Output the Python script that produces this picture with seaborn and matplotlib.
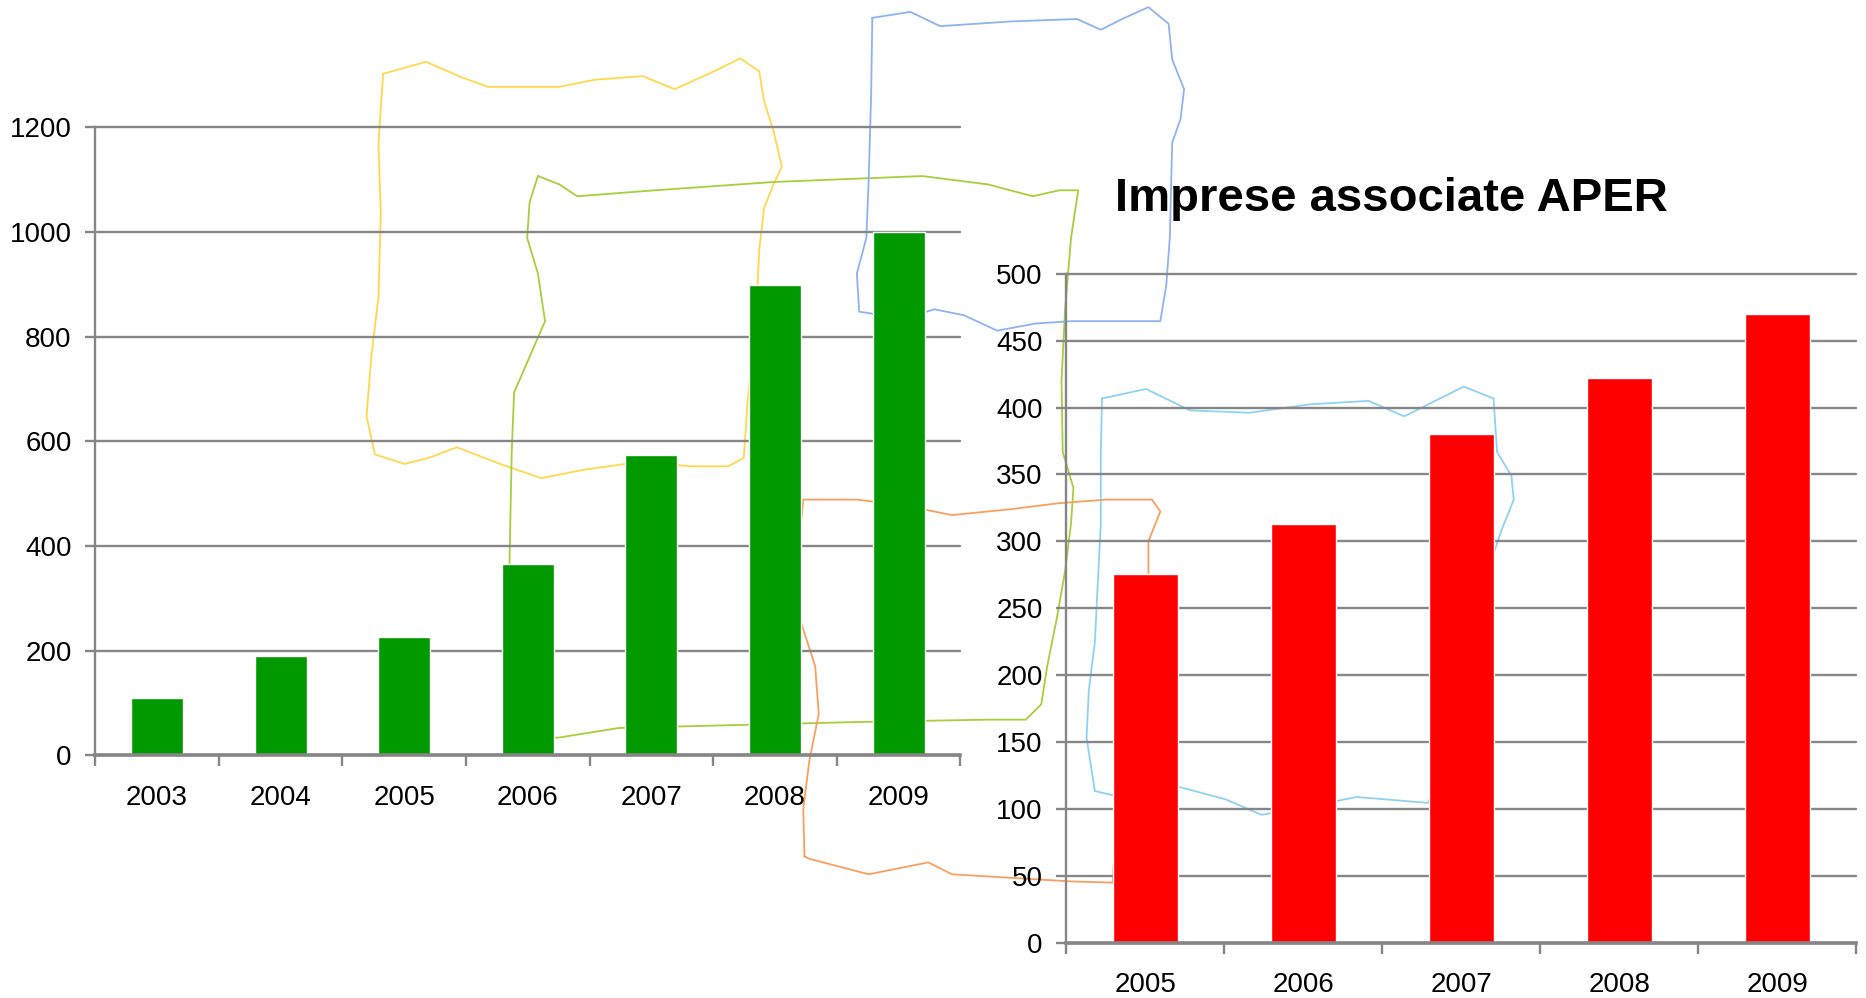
import numpy as np
import pandas as pd
import seaborn as sns
import matplotlib.pyplot as plt

# dati
anni_impianti = ['2003', '2004', '2005', '2006', '2007', '2008', '2009']
impianti = [109, 189, 226, 366, 573, 898, 1000]

anni_imprese = ['2005', '2006', '2007', '2008', '2009']
imprese = [276, 313, 380, 422, 470]

titolo_imprese = 'Imprese associate APER'

# contorni disegnati a mano (decorazione, coordinate in pixel 1568x839)
contorno_giallo = [(322, 62), (358, 52), (388, 65), (410, 73), (470, 73), (500, 67), (540, 64),
                   (567, 75), (600, 60), (622, 49), (638, 60), (642, 85), (650, 110), (657, 140),
                   (650, 155), (642, 175), (638, 210), (636, 250), (632, 300), (628, 340),
                   (625, 385), (612, 392), (580, 392), (540, 388), (490, 395), (455, 402),
                   (420, 390), (384, 376), (360, 385), (340, 390), (315, 382), (308, 350),
                   (312, 300), (318, 250), (320, 180), (318, 120), (322, 62)]
contorno_verde = [(452, 148), (470, 155), (485, 165), (550, 160), (650, 153), (775, 148),
                  (830, 155), (868, 165), (890, 160), (906, 160), (900, 200), (895, 260),
                  (892, 320), (893, 380), (902, 410), (900, 440), (895, 480), (888, 520),
                  (880, 560), (875, 592), (862, 605), (830, 605), (720, 607), (600, 610),
                  (520, 612), (470, 620), (440, 622), (430, 580), (428, 480), (430, 380),
                  (432, 330), (445, 300), (458, 270), (452, 230), (443, 200), (445, 170),
                  (452, 148)]
contorno_blu = [(733, 15), (765, 10), (790, 22), (850, 18), (905, 16), (925, 25), (945, 15),
                (965, 6), (982, 20), (985, 50), (995, 75), (992, 100), (985, 120), (983, 200),
                (980, 240), (975, 270), (950, 270), (900, 270), (870, 272), (838, 278),
                (810, 265), (785, 260), (760, 268), (722, 262), (720, 230), (728, 200),
                (730, 150), (732, 80), (733, 15)]
contorno_azzurro = [(926, 335), (963, 327), (1000, 345), (1050, 347), (1100, 340), (1150, 337),
                    (1180, 350), (1230, 325), (1255, 335), (1258, 380), (1270, 400),
                    (1272, 420), (1262, 445), (1250, 480), (1230, 600), (1200, 675),
                    (1140, 670), (1090, 680), (1060, 685), (1030, 672), (985, 660),
                    (950, 672), (920, 665), (913, 620), (915, 580), (920, 540), (922, 500),
                    (925, 440), (925, 380), (926, 335)]
contorno_arancio = [(676, 720), (675, 680), (680, 640), (688, 600), (685, 560), (672, 520),
                    (670, 470), (675, 420), (720, 420), (760, 425), (800, 433), (850, 428),
                    (890, 423), (930, 420), (968, 420), (975, 430), (965, 455), (965, 490),
                    (950, 560), (940, 650), (935, 742), (900, 741), (850, 738), (800, 735),
                    (780, 725), (730, 735), (680, 722), (676, 720)]

grigio = '#868686'

sns.set_style("white")
plt.rcParams['font.family'] = ['Liberation Sans', 'DejaVu Sans']
plt.rcParams['text.color'] = 'black'

fig = plt.figure(figsize=(18.66, 9.98), dpi=100)

# livello di sfondo con i contorni
bg = fig.add_axes([0, 0, 1, 1], zorder=-1)
bg.set_xlim(0, 1568)
bg.set_ylim(839, 0)
bg.axis('off')
for pts, col in [(contorno_giallo, '#FFD84D'), (contorno_verde, '#A6CF3A'),
                 (contorno_blu, '#8FB2F2'), (contorno_azzurro, '#8ED2F2'),
                 (contorno_arancio, '#F8A060')]:
    xs, ys = zip(*pts)
    bg.plot(xs, ys, color=col, lw=1.3)


def stile_assi(ax, ymax, passo, ncat):
    ax.set_facecolor('none')
    ax.set_xlim(-0.5, ncat - 0.5)
    ax.set_ylim(0, ymax)
    ax.set_yticks(np.arange(0, ymax + 1, passo))
    ax.yaxis.grid(True, color=grigio, lw=1.7)
    ax.xaxis.grid(False)
    for gl in ax.get_ygridlines():
        gl.set_clip_on(False)
    ax.set_axisbelow(True)
    for s in ['top', 'right']:
        ax.spines[s].set_visible(False)
    ax.spines['left'].set_color(grigio)
    ax.spines['left'].set_linewidth(1.7)
    ax.spines['bottom'].set_color(grigio)
    ax.spines['bottom'].set_linewidth(2.6)
    ax.tick_params(axis='y', left=True, length=7, width=1.7, color=grigio,
                   pad=10, labelsize=20, labelcolor='black', direction='out')
    ax.set_xticks(np.arange(-0.5, ncat), minor=True)
    ax.tick_params(axis='x', which='major', length=0, pad=21, labelsize=20,
                   labelcolor='black')
    ax.tick_params(axis='x', which='minor', bottom=True, length=8, width=1.7,
                   color=grigio, direction='out')
    ax.set_xlabel('')
    ax.set_ylabel('')


# grafico impianti (verde)
ax1 = fig.add_axes([0.0510, 0.2431, 0.4637, 0.6294])
df1 = pd.DataFrame({'anno': anni_impianti, 'valore': impianti})
sns.barplot(data=df1, x='anno', y='valore', color='#009900', saturation=1,
            width=0.42, ax=ax1)
stile_assi(ax1, 1200, 200, len(anni_impianti))

# grafico imprese associate (rosso)
ax2 = fig.add_axes([0.5714, 0.0548, 0.4235, 0.6711])
df2 = pd.DataFrame({'anno': anni_imprese, 'valore': imprese})
sns.barplot(data=df2, x='anno', y='valore', color='#FF0000', saturation=1,
            width=0.41, ax=ax2)
stile_assi(ax2, 500, 50, len(anni_imprese))

fig.text(0.5976, 1 - 177 / 839, titolo_imprese, fontsize=34, fontweight='bold',
         color='black', ha='left', va='baseline')

fig.savefig('out.png', dpi=100)
